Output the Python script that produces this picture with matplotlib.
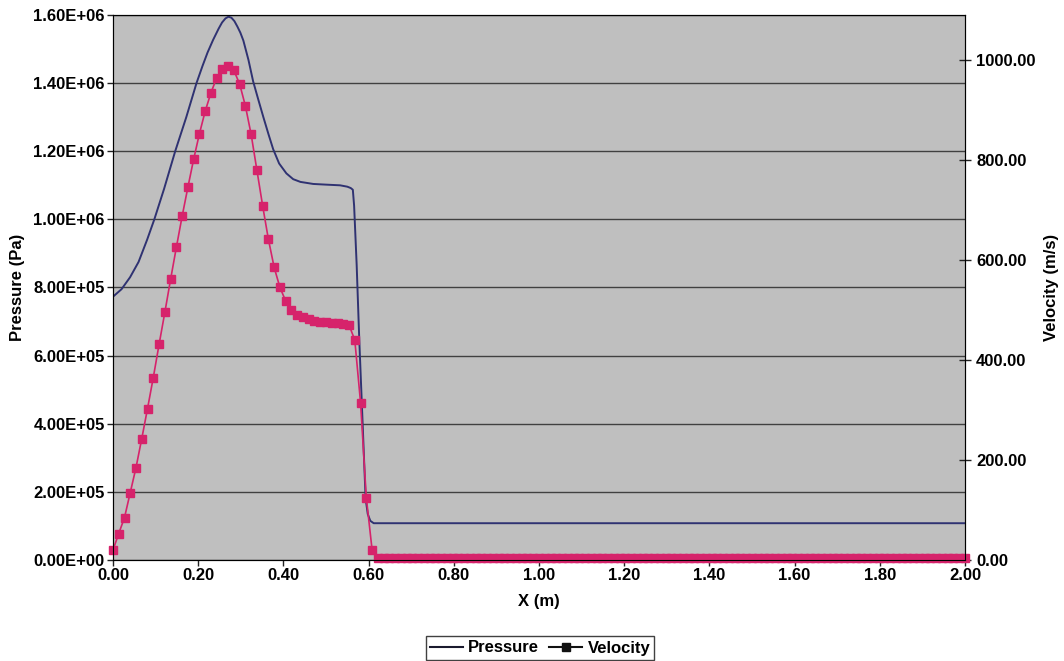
import numpy as np
import matplotlib.pyplot as plt
from matplotlib.lines import Line2D
from matplotlib.ticker import FuncFormatter

# pressure curve (x in m, pressure in Pa)
pressure_x = [0.000, 0.020, 0.040, 0.060, 0.080, 0.097, 0.120, 0.146, 0.172, 0.196,
              0.210, 0.222, 0.235, 0.248, 0.256, 0.264, 0.271, 0.278, 0.285, 0.292,
              0.299, 0.306, 0.318, 0.329, 0.341, 0.353, 0.365, 0.376, 0.390, 0.407,
              0.423, 0.440, 0.470, 0.500, 0.533, 0.550, 0.558, 0.563, 0.566, 0.572,
              0.578, 0.586, 0.593, 0.598, 0.604, 0.612, 2.000]
pressure = [7.73e5, 7.95e5, 8.30e5, 8.75e5, 9.40e5, 1.000e6, 1.090e6, 1.200e6, 1.300e6, 1.400e6,
            1.450e6, 1.490e6, 1.527e6, 1.560e6, 1.578e6, 1.590e6, 1.595e6, 1.592e6, 1.582e6, 1.566e6,
            1.548e6, 1.525e6, 1.468e6, 1.405e6, 1.352e6, 1.300e6, 1.250e6, 1.206e6, 1.164e6, 1.135e6,
            1.118e6, 1.110e6, 1.104e6, 1.102e6, 1.100e6, 1.096e6, 1.092e6, 1.087e6, 1.040e6, 8.66e5,
            6.50e5, 4.00e5, 1.80e5, 1.35e5, 1.15e5, 1.08e5, 1.08e5]

# velocity, one value per grid cell (149 cells over 0..2 m)
velocity_x = np.linspace(0.0, 2.0, 149)
velocity_front = [20, 53, 85, 135, 185, 243, 303, 365, 431, 495,
                  561, 625, 687, 745, 801, 852, 897, 934, 964, 982,
                  988, 979, 952, 908, 851, 780, 708, 641, 585, 545,
                  518, 500, 490, 485, 481, 478, 476, 475, 474, 473,
                  472, 470, 440, 315, 125, 21]
velocity_tail = [5, 5, 5, 5, 5, 5, 5, 5, 5, 5, 5, 5, 5, 5, 5, 5, 5, 5, 5, 5,
                 5, 5, 5, 5, 5, 5, 5, 5, 5, 5, 5, 5, 5, 5, 5, 5, 5, 5, 5, 5,
                 5, 5, 5, 5, 5, 5, 5, 5, 5, 5, 5, 5, 5, 5, 5, 5, 5, 5, 5, 5,
                 5, 5, 5, 5, 5, 5, 5, 5, 5, 5, 5, 5, 5, 5, 5, 5, 5, 5, 5, 5,
                 5, 5, 5, 5, 5, 5, 5, 5, 5, 5, 5, 5, 5, 5, 5, 5, 5, 5, 5, 5,
                 5, 5, 5]
velocity = velocity_front + velocity_tail

x_ticks = [0.0, 0.2, 0.4, 0.6, 0.8, 1.0, 1.2, 1.4, 1.6, 1.8, 2.0]
p_ticks = [0, 2e5, 4e5, 6e5, 8e5, 1.0e6, 1.2e6, 1.4e6, 1.6e6]
v_ticks = [0, 200, 400, 600, 800, 1000]

plt.rcParams['font.family'] = ['Liberation Sans', 'DejaVu Sans']
plt.rcParams['font.weight'] = 'bold'
plt.rcParams['font.size'] = 12

fig = plt.figure(figsize=(10.64, 6.61), dpi=100)
ax = fig.add_axes([113/1064, 1 - 560/661, (965 - 113)/1064, (560 - 15)/661])
ax.set_facecolor('#bfbfbf')
ax.plot(pressure_x, pressure, color='#2f3272', lw=1.4)
ax.set_xlim(0, 2.0)
ax.set_ylim(0, 1.6e6)
ax.set_xticks(x_ticks)
ax.set_yticks(p_ticks)
ax.xaxis.set_major_formatter(FuncFormatter(lambda v, _: f'{v:.2f}'))
ax.yaxis.set_major_formatter(FuncFormatter(lambda v, _: f'{v:.2E}'))
ax.grid(axis='y', color='#404040', lw=1.0)
ax.set_axisbelow(True)
ax.tick_params(axis='both', direction='out', length=4, width=1, color='#222222', pad=2)
ax.set_xlabel('X (m)', fontweight='bold', labelpad=8)
ax.set_ylabel('Pressure (Pa)', fontweight='bold', labelpad=6)
for s in ax.spines.values():
    s.set_color('#222222')

ax2 = ax.twinx()
ax2.plot(velocity_x, velocity, color='#d6236b', lw=1.2, marker='s', ms=6.2,
         mec='#d6236b', clip_on=False)
ax2.set_ylim(0, 1090)
ax2.set_yticks(v_ticks)
ax2.yaxis.set_major_formatter(FuncFormatter(lambda v, _: f'{v:.2f}'))
ax2.tick_params(axis='y', direction='inout', length=8, width=1, color='#222222', pad=4)
ax2.set_ylabel('Velocity (m/s)', fontweight='bold', labelpad=6)

handles = [Line2D([], [], color='#1a1a2e', lw=1.5),
           Line2D([], [], color='#111111', lw=1.5, marker='s', ms=6)]
leg = fig.legend(handles, ['Pressure', 'Velocity'], loc='center',
                 bbox_to_anchor=(540/1064, 1 - 648/661), ncol=2, frameon=True,
                 fancybox=False, edgecolor='#111111', handlelength=2.0,
                 handletextpad=0.3, columnspacing=0.6, borderpad=0.25)
leg.get_frame().set_linewidth(1.0)

fig.savefig('out.png', dpi=100)
